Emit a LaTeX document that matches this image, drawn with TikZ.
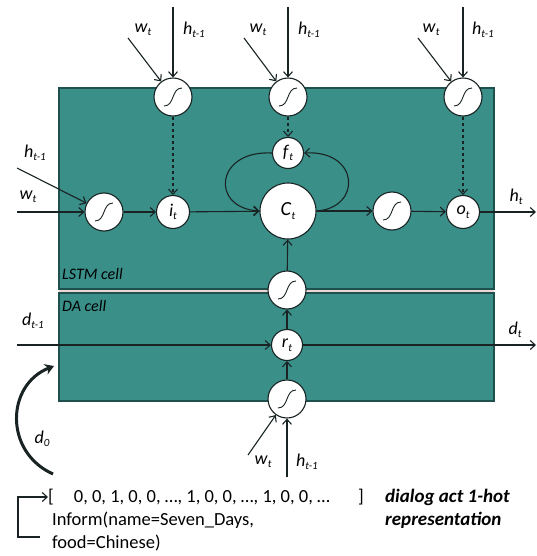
\documentclass[tikz,border=0pt]{standalone}
\usepackage{fontspec}
\setmainfont{Carlito}
\usetikzlibrary{arrows.meta}
\definecolor{teal1}{RGB}{58,143,137}
\definecolor{tealdark}{RGB}{30,80,78}
\definecolor{ink}{RGB}{25,35,35}
\definecolor{sep}{RGB}{236,214,214}
\newcommand{\lab}[2]{\textit{#1}\raisebox{-0.4ex}{\fontsize{11}{11}\selectfont\textit{#2}}}
\begin{document}
\begin{tikzpicture}[x=1pt,y=-1pt,
  arr/.style={draw=ink,line width=1.1pt,-{Straight Barb[length=5pt,width=9pt,line width=1.1pt]}},
  dotarr/.style={arr,dash pattern=on 3pt off 3pt},
  gate/.style={circle,draw=ink,line width=1.1pt,fill=white,inner sep=0pt,minimum size=38pt},
  small/.style={circle,draw=ink,line width=1.1pt,fill=white,inner sep=0pt,minimum size=33pt,font=\fontsize{18}{18}\selectfont},
  big/.style={circle,draw=ink,line width=1.1pt,fill=white,inner sep=0pt,minimum size=56pt,font=\fontsize{20}{20}\selectfont},
  lbl/.style={font=\fontsize{18}{18}\selectfont,inner sep=1pt},
  txt/.style={font=\fontsize{18.5}{22}\selectfont,inner sep=0pt,anchor=west}]
\useasboundingbox (0,0) rectangle (536,556);
\fill[sep] (59,288) rectangle (494,294);
\draw[tealdark,line width=1.2pt,fill=teal1] (59,88) rectangle (494,289);
\draw[tealdark,line width=1.2pt,fill=teal1] (59,293) rectangle (494,401);
\node[font=\fontsize{16}{16}\selectfont\itshape,anchor=west,inner sep=0pt] (lstmlab) at (62,274) {LSTM cell};
\node[font=\fontsize{16}{16}\selectfont\itshape,anchor=west,inner sep=0pt] (dalab) at (62,306) {DA cell};
% sigmoid glyph
\tikzset{sig/.style={path picture={\draw[ink,line width=0.9pt] ([xshift=-9pt,yshift=-9pt]path picture bounding box.center) .. controls ([xshift=2pt,yshift=-9pt]path picture bounding box.center) and ([xshift=-2pt,yshift=9pt]path picture bounding box.center) .. ([xshift=9pt,yshift=9pt]path picture bounding box.center);}}}
% nodes
\node[gate,sig] (sigA) at (173,97) {};
\node[gate,sig] (sigB) at (288,97) {};
\node[gate,sig] (sigC) at (463,97) {};
\node[gate,sig] (sigL) at (104,212) {};
\node[small] (it) at (173,212) {\lab{i}{t}};
\node[small,minimum size=31pt] (ft) at (288,153) {\lab{f}{t}};
\node[big] (Ct) at (288,211) {\lab{C}{t}};
\node[gate,sig] (sigR) at (392,211) {};
\node[small] (ot) at (463,212) {\lab{o}{t}};
\node[gate,sig] (sigM) at (287,290) {};
\node[small,minimum size=31pt] (rt) at (287,345) {\lab{r}{t}};
\node[gate,sig] (sigD) at (287,399) {};
% free ends
\coordinate (hA) at (173,7);
\coordinate (wA) at (128,38);
\coordinate (hB) at (288,7);
\coordinate (wB) at (244,38);
\coordinate (hC) at (463,7);
\coordinate (wC) at (418,38);
\coordinate (wL) at (17,212);
\coordinate (hL) at (17,168);
\coordinate (hout) at (536,212);
\coordinate (din) at (17,345);
\coordinate (dout) at (536,345);
\coordinate (hD) at (287,477);
\coordinate (wD) at (248,455);
% inputs
\draw[arr] (hA) -- (sigA);
\draw[arr] (wA) -- (sigA);
\draw[arr] (hB) -- (sigB);
\draw[arr] (wB) -- (sigB);
\draw[arr] (hC) -- (sigC);
\draw[arr] (wC) -- (sigC);
\draw[arr] (wL) -- (sigL);
\draw[arr] (hL) -- (sigL);
\draw[arr] (hD) -- (sigD);
\draw[arr] (wD) -- (sigD);
% internal
\draw[dotarr] (sigA) -- (it);
\draw[dotarr] (sigB) -- (ft);
\draw[dotarr] (sigC) -- (ot);
\draw[arr] (sigL) -- (it);
\draw[arr] (it) -- (Ct);
\draw[arr] (Ct) -- (sigR);
\draw[arr] (sigR) -- (ot);
\draw[arr] (ot) -- (hout);
\draw[arr] (ft.west) .. controls (215,150) and (210,208) .. (Ct.west);
\draw[arr] (Ct.east) .. controls (362,208) and (360,150) .. (ft.east);
\draw[arr] (sigM) -- (Ct);
\draw[arr] (rt) -- (sigM);
\draw[arr] (sigD) -- (rt);
\draw[arr] (din) -- (rt);
\draw[arr] (rt) -- (dout);
% labels
\node[lbl] (lwA) at (143,30) {\lab{w}{t}};
\node[lbl] (lhA) at (194,30) {\lab{h}{t-1}};
\node[lbl] (lwB) at (258,30) {\lab{w}{t}};
\node[lbl] (lhB) at (309,30) {\lab{h}{t-1}};
\node[lbl] (lwC) at (431,30) {\lab{w}{t}};
\node[lbl] (lhC) at (483,30) {\lab{h}{t-1}};
\node[lbl] (lhL) at (35,153) {\lab{h}{t-1}};
\node[lbl] (lwL) at (28,197) {\lab{w}{t}};
\node[lbl] (lhout) at (516,197) {\lab{h}{t}};
\node[lbl] (ldin) at (33,321) {\lab{d}{t-1}};
\node[lbl] (ldout) at (515,330) {\lab{d}{t}};
\node[lbl] (lwD) at (263,462) {\lab{w}{t}};
\node[lbl] (lhD) at (307,462) {\lab{h}{t-1}};
% d0 curved arrow
\coordinate (d0s) at (53,474);
\coordinate (d0e) at (54,366);
\draw[ink,line width=3pt,-{Stealth[length=9pt,width=11pt]}] (d0s) .. controls (4,452) and (6,385) .. (d0e);
\node[lbl] (ld0) at (42,439) {\lab{d}{0}};
% bottom text
\coordinate (b1) at (40,537);
\coordinate (b2) at (18,537);
\coordinate (b3) at (18,497);
\node[txt] (vec) at (48,497) {[\hspace{20pt}0, 0, 1, 0, 0, \dots, 1, 0, 0, \dots, 1, 0, 0, \dots};
\node[txt] (rbr) at (358,497) {]};
\draw[arr] (b1) -- (b2) -- (b3) -- (vec.west);
\node[txt] (inf1) at (52,520) {Inform(name=Seven\_Days,};
\node[txt] (inf2) at (52,543) {food=Chinese)};
\node[txt,font=\fontsize{19}{22}\selectfont\bfseries\itshape] (da1) at (385,497) {dialog act 1-hot};
\node[txt,font=\fontsize{19}{22}\selectfont\bfseries\itshape] (da2) at (385,520) {representation};
\end{tikzpicture}
\end{document}
